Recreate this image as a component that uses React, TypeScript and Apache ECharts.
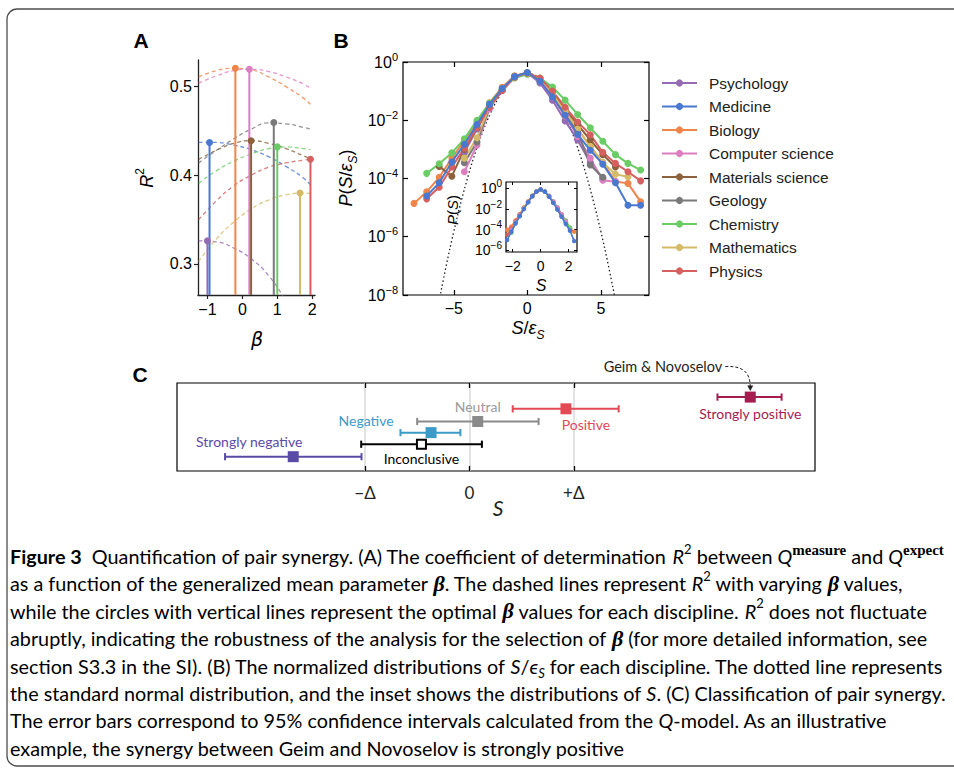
import React, { useEffect, useRef } from "react";
import * as echarts from "echarts";

const disciplines = ["Psychology", "Medicine", "Biology", "Computer science", "Materials science", "Geology", "Chemistry", "Mathematics", "Physics"];
const palette = ["#956CB4", "#4878D0", "#EE854A", "#DC7EC0", "#8C613C", "#797979", "#6ACC64", "#D5BB67", "#D65F5F"];

// ---------- Panel A ----------
const betaGrid = [-1.25, -0.75, -0.25, 0.25, 0.75, 1.25, 1.75, 1.95];
const r2Psychology = [0.326, 0.325, 0.318, 0.306, 0.287, 0.258, 0.225, 0.21];
const r2Medicine = [0.437, 0.437, 0.434, 0.429, 0.421, 0.41, 0.397, 0.389];
const r2Biology = [0.511, 0.518, 0.5206, 0.519, 0.511, 0.5, 0.487, 0.48];
const r2CS = [0.504, 0.512, 0.518, 0.5195, 0.517, 0.511, 0.503, 0.498];
const r2Materials = [0.418, 0.428, 0.436, 0.439, 0.436, 0.43, 0.422, 0.418];
const r2Geology = [0.414, 0.428, 0.441, 0.452, 0.459, 0.458, 0.454, 0.452];
const r2Chemistry = [0.391, 0.405, 0.416, 0.424, 0.43, 0.432, 0.43, 0.429];
const r2Mathematics = [0.303, 0.328, 0.347, 0.362, 0.372, 0.378, 0.38, 0.3795];
const r2Physics = [0.35, 0.371, 0.388, 0.4, 0.409, 0.414, 0.417, 0.418];
const r2Curves = [r2Psychology, r2Medicine, r2Biology, r2CS, r2Materials, r2Geology, r2Chemistry, r2Mathematics, r2Physics];
const betaOpt = [-1.0, -0.94, -0.2, 0.2, 0.25, 0.9, 1.0, 1.65, 1.95];
const r2Opt = [0.326, 0.437, 0.5207, 0.5196, 0.439, 0.4595, 0.432, 0.38, 0.418];
const aXTicks = [-1, 0, 1, 2];
const aYTicks = [0.3, 0.4, 0.5];

// ---------- Panel B ----------
const bins = [-7.7, -6.84, -5.99, -5.13, -4.28, -3.42, -2.57, -1.71, -0.86, 0, 0.86, 1.71, 2.57, 3.42, 4.28, 5.13, 5.99, 6.84, 7.7];
const pPsychology = [null, null, null, null, 7.9e-4, 5.0e-3, 0.028, 0.105, 0.302, 0.417, 0.191, 0.049, 9.5e-3, 2.1e-3, 3.5e-4, 1.0e-4, null, null, null];
const pMedicine = [null, 2.5e-5, 7.1e-5, 3.7e-4, 1.5e-3, 7.1e-3, 0.035, 0.123, 0.316, 0.436, 0.219, 0.063, 0.0148, 3.3e-3, 9.3e-4, 3.1e-4, 7.1e-5, 1.2e-5, 1.2e-5];
const pBiology = [1.4e-5, 3.5e-5, 1.1e-4, 5.0e-4, 2.0e-3, 8.9e-3, 0.04, 0.135, 0.339, 0.427, 0.263, 0.083, 0.021, 5.0e-3, 1.26e-3, 3.5e-4, 7.9e-5, 6.8e-5, 1.6e-5];
const pCS = [null, null, null, null, 1.7e-4, 1.4e-3, 0.025, 0.107, 0.302, 0.398, 0.224, 0.063, 0.0141, 2.8e-3, 5.0e-4, 8.7e-5, 7.8e-5, null, null];
const pMaterials = [null, null, 2.6e-4, 1.2e-4, 1.0e-3, 5.6e-3, 0.032, 0.112, 0.316, 0.417, 0.269, 0.089, 0.025, 7.1e-3, 2.1e-3, 6.6e-4, 2.5e-4, null, null];
const pGeology = [null, null, null, null, 3.5e-4, 1.8e-3, 0.028, 0.107, 0.316, 0.427, 0.24, 0.071, 0.0178, 4.0e-3, 2.9e-4, 1.1e-4, null, null, null];
const pChemistry = [null, 1.5e-4, 3.2e-4, 7.6e-4, 2.3e-3, 0.01, 0.038, 0.117, 0.282, 0.38, 0.282, 0.138, 0.049, 0.0158, 5.5e-3, 1.9e-3, 6.6e-4, 3.3e-4, 1.95e-4];
const pMathematics = [null, null, null, null, 5.0e-4, 2.5e-3, 0.03, 0.112, 0.316, 0.417, 0.251, 0.079, 0.02, 5.0e-3, 1.26e-3, 3.5e-4, 1.4e-4, 1.15e-4, null];
const pPhysics = [null, 2.0e-5, 5.0e-5, 2.5e-4, 1.1e-3, 5.6e-3, 0.028, 0.105, 0.302, 0.417, 0.282, 0.1, 0.028, 8.7e-3, 3.2e-3, 7.9e-4, 3.3e-4, 1.7e-4, 8.3e-5];
const pSeries = [pPsychology, pMedicine, pBiology, pCS, pMaterials, pGeology, pChemistry, pMathematics, pPhysics];
const bDrawOrder = [0, 2, 3, 4, 5, 6, 7, 8, 1];
const normX = [-6, -5.5, -5, -4.5, -4, -3.5, -3, -2.5, -2, -1.5, -1, -0.5, 0, 0.5, 1, 1.5, 2, 2.5, 3, 3.5, 4, 4.5, 5, 5.5, 6];
const normP = [6.1e-9, 1.08e-7, 1.49e-6, 1.6e-5, 1.34e-4, 8.7e-4, 4.4e-3, 0.0175, 0.054, 0.13, 0.242, 0.352, 0.398, 0.352, 0.242, 0.13, 0.054, 0.0175, 4.4e-3, 8.7e-4, 1.34e-4, 1.6e-5, 1.49e-6, 1.08e-7, 6.1e-9];
const bXTicks = [-5, 0, 5];
const bYTicks = [1e-8, 1e-6, 1e-4, 1e-2, 1];

// inset
const insetS = [-2.4, -2.1, -1.8, -1.5, -1.2, -0.9, -0.6, -0.3, 0, 0.3, 0.6, 0.9, 1.2, 1.5, 1.8, 2.1, 2.4];
const insetBiology = [1.0e-4, 2.0e-4, 7.9e-4, 3.2e-3, 0.0141, 0.056, 0.2, 0.5, 0.79, 0.5, 0.178, 0.045, 0.01, 2.0e-3, 5.0e-4, 1.26e-4, 6.3e-5];
const insetPhysics = [3.2e-5, 1.26e-4, 6.3e-4, 2.8e-3, 0.0126, 0.05, 0.19, 0.5, 0.79, 0.5, 0.178, 0.05, 0.0126, 2.5e-3, 5.0e-4, 1.0e-4, null];
const insetChemistry = [null, 5.0e-5, 5.0e-4, 2.5e-3, 0.0126, 0.05, 0.19, 0.52, 0.76, 0.52, 0.2, 0.056, 0.0141, 3.2e-3, 7.9e-4, 1.6e-4, null];
const insetCS = [null, 1.0e-4, 5.0e-4, 2.5e-3, 0.0112, 0.05, 0.178, 0.5, 0.79, 0.5, 0.19, 0.056, 0.0141, 3.2e-3, 6.3e-4, null, null];
const insetMedicine = [1.0e-5, 6.3e-5, 4.0e-4, 2.0e-3, 0.01, 0.045, 0.178, 0.5, 0.79, 0.5, 0.158, 0.04, 8.9e-3, 1.8e-3, 3.5e-4, 7.9e-5, 7.9e-6];
const insetSeries = [
  { idx: 2, vals: insetBiology },
  { idx: 8, vals: insetPhysics },
  { idx: 6, vals: insetChemistry },
  { idx: 3, vals: insetCS },
  { idx: 1, vals: insetMedicine },
];
const insetXTicks = [-2, 0, 2];
const insetYTicks = [1e-6, 1e-4, 1e-2, 1];

// ---------- Panel C ----------
const cNames = ["Strongly positive", "Positive", "Neutral", "Negative", "Inconclusive", "Strongly negative"];
const cCenter = [2.69, 0.925, 0.08, -0.367, -0.459, -1.687];
const cLow = [2.376, 0.415, -0.5, -0.66, -1.036, -2.34];
const cHigh = [2.99, 1.43, 0.663, -0.086, 0.12, -1.033];
const cRow = [1.2, 2.2, 3.28, 4.23, 5.22, 6.28];
const cColors = ["#A51C4F", "#E24A55", "#8A8A8A", "#3A9BC9", "#000000", "#5A4BA6"];
const cLabelColors = ["#A51C4F", "#E24A55", "#9A9A9A", "#3A9BC9", "#000000", "#5A4BA6"];
const cLabelDx = [0, 20, 0, -65, 0, -44];
const cLabelDy = [16, 15.5, -15, -12, 14.7, -15];
const cXTicks = [-1, 0, 1];

const fontSans = '"Liberation Sans", Arial, Helvetica, sans-serif';
const fontCap = 'Lato, "Open Sans", sans-serif';
const fontSerif = '"Liberation Serif", "DejaVu Serif", serif';

const minus = (v: number) => String(v).replace("-", "\u2212");
const expLabel = (v: number) => {
  const e = Math.round(Math.log10(v));
  return "{b|10}{s|" + (e < 0 ? "\u2212" + -e : String(e)) + "}";
};

function buildOption(): any {
  const logRich = (size: number, sup: number) => ({
    b: { fontSize: size, fontFamily: fontSans, color: "#000", lineHeight: size + 6, verticalAlign: "middle" },
    s: { fontSize: sup, fontFamily: fontSans, color: "#000", lineHeight: sup + 2, verticalAlign: "top" },
  });

  const gridBase = { containLabel: false, outerBoundsMode: "none" };
  const grid = [
    { ...gridBase, left: 198, top: 60, width: 117, height: 235 },
    { ...gridBase, left: 403, top: 62, width: 246, height: 233, show: true, borderColor: "#000", borderWidth: 1.2 },
    { ...gridBase, left: 506, top: 182, width: 71, height: 70, show: true, borderColor: "#000", borderWidth: 1.2, backgroundColor: "#fff" },
    { ...gridBase, left: 177, top: 383, width: 638, height: 88, show: true, borderColor: "#000", borderWidth: 1.2 },
  ];

  const hiddenLine = { show: false, onZero: false };
  const xAxis = [
    {
      type: "value", gridIndex: 0, min: -1.27, max: 2.08,
      axisLine: { show: true, onZero: false, lineStyle: { color: "#222", width: 1.3 } },
      axisTick: { show: true, inside: false, length: 4, customValues: aXTicks, lineStyle: { color: "#222", width: 1.2 } },
      axisLabel: { customValues: aXTicks, formatter: minus, fontSize: 16, fontFamily: fontSans, color: "#000", margin: 6 },
      splitLine: { show: false },
    },
    {
      type: "value", gridIndex: 1, min: -8.45, max: 8.27,
      axisLine: hiddenLine,
      axisTick: { show: true, inside: true, length: 5, customValues: bXTicks, lineStyle: { color: "#000", width: 1.2 } },
      axisLabel: { customValues: bXTicks, formatter: minus, fontSize: 16, fontFamily: fontSans, color: "#000", margin: 5 },
      splitLine: { show: false },
    },
    {
      type: "value", gridIndex: 1, position: "top", min: -8.45, max: 8.27,
      axisLine: hiddenLine,
      axisTick: { show: true, inside: true, length: 5, customValues: bXTicks, lineStyle: { color: "#000", width: 1.2 } },
      axisLabel: { show: false },
      splitLine: { show: false },
    },
    {
      type: "value", gridIndex: 2, min: -2.48, max: 2.6,
      axisLine: hiddenLine,
      axisTick: { show: true, inside: true, length: 3, customValues: insetXTicks, lineStyle: { color: "#000", width: 1 } },
      axisLabel: { customValues: insetXTicks, formatter: minus, fontSize: 14, fontFamily: fontSans, color: "#000", margin: 7 },
      splitLine: { show: false },
    },
    {
      type: "value", gridIndex: 2, position: "top", min: -2.48, max: 2.6,
      axisLine: hiddenLine,
      axisTick: { show: true, inside: true, length: 3, customValues: insetXTicks, lineStyle: { color: "#000", width: 1 } },
      axisLabel: { show: false },
      splitLine: { show: false },
    },
    {
      type: "value", gridIndex: 3, min: -2.8, max: 3.31,
      axisLine: hiddenLine,
      axisTick: { show: true, inside: true, length: 5, customValues: cXTicks, lineStyle: { color: "#000", width: 1.3 } },
      axisLabel: {
        customValues: cXTicks,
        formatter: (v: number) => (v < 0 ? "\u2212\u0394" : v > 0 ? "+\u0394" : "0"),
        fontSize: 17, fontFamily: fontCap, color: "#231f20", margin: 13,
      },
      splitLine: { show: true, lineStyle: { color: "#d9d9d9", width: 1.5 } },
    },
    {
      type: "value", gridIndex: 3, position: "top", min: -2.8, max: 3.31,
      axisLine: hiddenLine,
      axisTick: { show: true, inside: true, length: 5, customValues: cXTicks, lineStyle: { color: "#000", width: 1.3 } },
      axisLabel: { show: false },
      splitLine: { show: false },
    },
  ];

  const yAxis = [
    {
      type: "value", gridIndex: 0, min: 0.265, max: 0.53,
      axisLine: { show: true, onZero: false, lineStyle: { color: "#222", width: 1.3 } },
      axisTick: { show: true, inside: false, length: 4, customValues: aYTicks, lineStyle: { color: "#222", width: 1.2 } },
      axisLabel: { customValues: aYTicks, fontSize: 16, fontFamily: fontSans, color: "#000", margin: 6, formatter: (v: number) => v.toFixed(1) },
      splitLine: { show: false },
    },
    {
      type: "log", logBase: 10, gridIndex: 1, min: 1e-8, max: 1,
      axisLine: hiddenLine,
      axisTick: { show: true, inside: true, length: 5, customValues: bYTicks, lineStyle: { color: "#000", width: 1.2 } },
      axisLabel: { customValues: bYTicks, formatter: expLabel, rich: logRich(16, 11), margin: 5 },
      minorTick: { show: false },
      splitLine: { show: false },
    },
    {
      type: "log", logBase: 10, gridIndex: 1, position: "right", min: 1e-8, max: 1,
      axisLine: hiddenLine,
      axisTick: { show: true, inside: true, length: 5, customValues: bYTicks, lineStyle: { color: "#000", width: 1.2 } },
      axisLabel: { show: false },
      splitLine: { show: false },
    },
    {
      type: "log", logBase: 10, gridIndex: 2, min: 6.9e-7, max: 4.27,
      axisLine: hiddenLine,
      axisTick: { show: true, inside: true, length: 3, customValues: insetYTicks, lineStyle: { color: "#000", width: 1 } },
      axisLabel: { customValues: insetYTicks, formatter: expLabel, rich: logRich(14, 10), margin: 4 },
      splitLine: { show: false },
    },
    {
      type: "log", logBase: 10, gridIndex: 2, position: "right", min: 6.9e-7, max: 4.27,
      axisLine: hiddenLine,
      axisTick: { show: true, inside: true, length: 3, customValues: insetYTicks, lineStyle: { color: "#000", width: 1 } },
      axisLabel: { show: false },
      splitLine: { show: false },
    },
    { type: "value", gridIndex: 3, min: 0, max: 7.5, inverse: true, show: false, axisLine: { onZero: false } },
  ];

  const series: any[] = [];

  // Panel B main series (first, so the legend takes its icons from them)
  bDrawOrder.forEach((i) => {
    series.push({
      type: "line", name: disciplines[i], xAxisIndex: 1, yAxisIndex: 1,
      data: bins.map((x, k) => [x, pSeries[i][k]]).filter((d) => d[1] != null),
      color: palette[i], symbol: "circle", symbolSize: 7, showSymbol: true,
      lineStyle: { width: 2, color: palette[i] }, itemStyle: { color: palette[i], borderWidth: 0 },
      z: i === 1 ? 5 : 3, silent: true,
    });
  });
  series.push({
    type: "line", name: "Standard normal", xAxisIndex: 1, yAxisIndex: 1,
    data: normX.map((x, k) => [x, normP[k]]), smooth: true, showSymbol: false,
    lineStyle: { type: [1.5, 2.5], width: 1.3, color: "#222" }, z: 2, silent: true,
  });

  // Panel A dashed curves and stems
  disciplines.forEach((name, i) => {
    series.push({
      type: "line", name: name + " R2", xAxisIndex: 0, yAxisIndex: 0,
      data: betaGrid.map((b, k) => [b, r2Curves[i][k]]), smooth: true, showSymbol: false,
      lineStyle: { type: [4, 3], width: 1.3, color: palette[i], opacity: 0.8 }, z: 2, silent: true,
    });
  });
  disciplines.forEach((name, i) => {
    series.push({
      type: "line", name: name + " optimal", xAxisIndex: 0, yAxisIndex: 0,
      data: [{ value: [betaOpt[i], 0.265], symbol: "none" }, { value: [betaOpt[i], r2Opt[i]] }],
      symbol: "circle", symbolSize: 7, color: palette[i],
      lineStyle: { width: 2, color: palette[i] }, itemStyle: { color: palette[i], borderWidth: 0 }, z: 3, silent: true,
    });
  });

  // Inset
  insetSeries.forEach((s) => {
    series.push({
      type: "line", name: disciplines[s.idx] + " inset", xAxisIndex: 3, yAxisIndex: 3,
      data: insetS.map((x, k) => [x, s.vals[k]]).filter((d) => d[1] != null),
      symbol: "circle", symbolSize: 4.5, color: palette[s.idx],
      lineStyle: { width: 1.6, color: palette[s.idx] }, itemStyle: { color: palette[s.idx], borderWidth: 0 },
      z: s.idx === 1 ? 7 : 6, silent: true,
    });
  });

  // Panel C
  series.push({
    type: "custom", name: "Synergy classes", xAxisIndex: 5, yAxisIndex: 5, silent: true, z: 4,
    data: cNames.map((_, i) => [cLow[i], cCenter[i], cHigh[i], cRow[i]]),
    encode: { x: [0, 1, 2], y: 3 },
    renderItem: (params: any, api: any) => {
      const i = params.dataIndex;
      const lo = api.coord([api.value(0), api.value(3)]);
      const c = api.coord([api.value(1), api.value(3)]);
      const hi = api.coord([api.value(2), api.value(3)]);
      const col = cColors[i];
      const hollow = i === 4;
      const children: any[] = [
        { type: "line", shape: { x1: lo[0], y1: lo[1], x2: hi[0], y2: hi[1] }, style: { stroke: col, lineWidth: 2 } },
        { type: "line", shape: { x1: lo[0], y1: lo[1] - 3.6, x2: lo[0], y2: lo[1] + 3.6 }, style: { stroke: col, lineWidth: 2 } },
        { type: "line", shape: { x1: hi[0], y1: hi[1] - 3.6, x2: hi[0], y2: hi[1] + 3.6 }, style: { stroke: col, lineWidth: 2 } },
        hollow
          ? { type: "rect", shape: { x: c[0] - 4.5, y: c[1] - 4.5, width: 9, height: 9 }, style: { fill: "#fff", stroke: col, lineWidth: 2 } }
          : { type: "rect", shape: { x: c[0] - 5.5, y: c[1] - 5.5, width: 11, height: 11 }, style: { fill: col } },
        {
          type: "text",
          style: {
            text: cNames[i], x: c[0] + cLabelDx[i], y: c[1] + cLabelDy[i], fill: cLabelColors[i],
            fontSize: 14, fontFamily: fontCap, align: "center", verticalAlign: "middle", textAlign: "center", textVerticalAlign: "middle",
          },
        },
      ];
      if (i === 0) {
        const tx = c[0] - 25;
        const ty = c[1] - 30.5;
        children.push({
          type: "text",
          style: {
            text: "Geim & Novoselov", x: tx - 3, y: ty, fill: "#231f20", fontSize: 14.5, fontFamily: fontCap,
            align: "right", verticalAlign: "middle", textAlign: "right", textVerticalAlign: "middle",
          },
        });
        children.push({
          type: "bezierCurve",
          shape: { x1: tx, y1: ty, cpx1: tx + 18, cpy1: ty - 1, cpx2: c[0], cpy2: ty + 6, x2: c[0], y2: c[1] - 10 },
          style: { stroke: "#231f20", lineWidth: 1, lineDash: [3, 2], fill: "none" },
        });
        children.push({
          type: "polygon",
          shape: { points: [[c[0] - 3, c[1] - 11.5], [c[0] + 3, c[1] - 11.5], [c[0], c[1] - 6]] },
          style: { fill: "#231f20" },
        });
      }
      return { type: "group", children };
    },
  });

  // Caption
  const cf = 19.8;
  const capRich = {
    n: { fontSize: cf, fontFamily: fontCap, color: "#231f20", lineHeight: 28, verticalAlign: "middle" },
    b: { fontSize: cf, fontFamily: fontCap, fontWeight: "bold", color: "#231f20", lineHeight: 28, verticalAlign: "middle" },
    i: { fontSize: cf, fontFamily: fontCap, fontStyle: "italic", color: "#231f20", lineHeight: 28, verticalAlign: "middle" },
    sup: { fontSize: 13, fontFamily: fontCap, color: "#231f20", lineHeight: 17, verticalAlign: "top" },
    ss: { fontSize: 15, fontFamily: fontSerif, fontWeight: "bold", color: "#231f20", lineHeight: 17, verticalAlign: "top" },
    bt: { fontSize: 22, fontFamily: fontSerif, fontWeight: "bold", fontStyle: "italic", color: "#231f20", lineHeight: 28, verticalAlign: "middle" },
    sub: { fontSize: 13, fontFamily: fontCap, fontStyle: "italic", color: "#231f20", lineHeight: 17, verticalAlign: "bottom" },
  };
  const capLines = [
    "{b|Figure 3}{n|  Quantification of pair synergy. (A) The coefficient of determination }{i|R}{sup|2}{n| between }{i|Q}{ss|measure}{n| and }{i|Q}{ss|expect}",
    "{n|as a function of the generalized mean parameter }{bt|\u03b2}{n|. The dashed lines represent }{i|R}{sup|2}{n| with varying }{bt|\u03b2}{n| values,}",
    "{n|while the circles with vertical lines represent the optimal }{bt|\u03b2}{n| values for each discipline. }{i|R}{sup|2}{n| does not fluctuate}",
    "{n|abruptly, indicating the robustness of the analysis for the selection of }{bt|\u03b2}{n| (for more detailed information, see}",
    "{n|section S3.3 in the SI). (B) The normalized distributions of }{i|S}{n|/}{i|\u03f5}{sub|S}{n| for each discipline. The dotted line represents}",
    "{n|the standard normal distribution, and the inset shows the distributions of }{i|S}{n|. (C) Classification of pair synergy.}",
    "{n|The error bars correspond to 95% confidence intervals calculated from the }{i|Q}{n|-model. As an illustrative}",
    "{n|example, the synergy between Geim and Novoselov is strongly positive}",
  ];

  const txt = (x: number, y: number, text: string, extra: any = {}, rotation = 0): any => ({
    type: "text", x, y, rotation, silent: true,
    style: {
      text, fill: "#000", align: "center", verticalAlign: "middle", textAlign: "center", textVerticalAlign: "middle",
      ...extra,
    },
  });
  const axisRich = (size: number, sub: number, fam: string) => ({
    n: { fontSize: size, fontFamily: fam, color: "#000", lineHeight: size + 8, verticalAlign: "middle" },
    i: { fontSize: size, fontFamily: fam, fontStyle: "italic", color: "#000", lineHeight: size + 8, verticalAlign: "middle" },
    sup: { fontSize: sub, fontFamily: fam, color: "#000", lineHeight: sub + 3, verticalAlign: "top" },
    sub: { fontSize: sub, fontFamily: fam, fontStyle: "italic", color: "#000", lineHeight: sub + 3, verticalAlign: "bottom" },
  });

  const graphic: any[] = [
    { type: "rect", silent: true, shape: { x: 7, y: 9, width: 1000, height: 757, r: 10 }, style: { fill: "none", stroke: "#4d4d4d", lineWidth: 1.3 } },
    txt(141, 40, "A", { fontSize: 21, fontWeight: "bold", fontFamily: fontSans }),
    txt(341, 40, "B", { fontSize: 21, fontWeight: "bold", fontFamily: fontSans }),
    txt(140, 374, "C", { fontSize: 21, fontWeight: "bold", fontFamily: fontSans }),
    txt(147, 178, "{i|R}{sup|2}", { rich: axisRich(18, 12, fontSans) }, Math.PI / 2),
    txt(257, 339, "\u03b2", { fontSize: 19, fontStyle: "italic", fontFamily: '"DejaVu Sans", sans-serif' }),
    txt(346, 178, "{i|P}{n|(}{i|S}{n|/}{i|\u03b5}{sub|S}{n|)}", { rich: axisRich(18, 12, fontSans) }, Math.PI / 2),
    txt(528, 328, "{i|S}{n|/}{i|\u03b5}{sub|S}", { rich: axisRich(18, 12, fontSans) }),
    txt(452, 210, "{i|P}{n|(}{i|S}{n|)}", { rich: axisRich(15, 10, fontSans) }, Math.PI / 2),
    txt(541, 285, "S", { fontSize: 16, fontStyle: "italic", fontFamily: fontSans }),
    txt(498, 507, "S", { fontSize: 21, fontStyle: "italic", fontFamily: fontCap, fill: "#231f20" }),
  ];
  capLines.forEach((line, k) => {
    graphic.push({
      type: "text", x: 10, y: 556 + k * 27.4, silent: true,
      style: { text: line, rich: capRich, align: "left", verticalAlign: "middle", textAlign: "left", textVerticalAlign: "middle" },
    });
  });

  return {
    animation: false,
    backgroundColor: "#fff",
    grid,
    xAxis,
    yAxis,
    legend: {
      data: disciplines,
      orient: "vertical",
      left: 661,
      top: 75,
      padding: 0,
      itemWidth: 35,
      itemHeight: 9,
      itemGap: 7.5,
      selectedMode: false,
      textStyle: { fontSize: 15.5, fontFamily: fontSans, color: "#222", lineHeight: 16, padding: [0, 0, 0, 7] },
    },
    series,
    graphic,
  };
}

export default function App() {
  const ref = useRef<HTMLDivElement>(null);
  useEffect(() => {
    if (!ref.current) return;
    const chart = echarts.init(ref.current, null, { renderer: "svg" });
    chart.setOption(buildOption());
    return () => chart.dispose();
  }, []);
  return <div ref={ref} style={{ position: "absolute", left: 0, top: 0, width: 954, height: 768 }} />;
}
